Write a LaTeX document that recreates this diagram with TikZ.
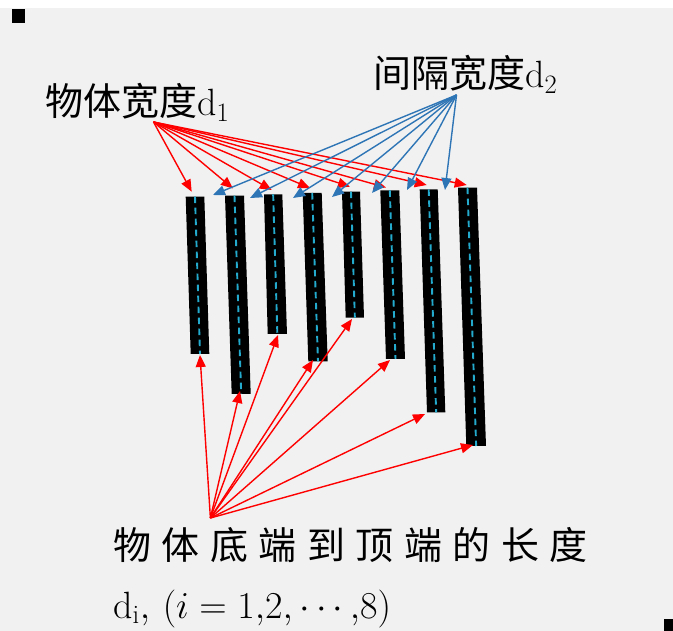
\RequirePackage{fix-cm}
\documentclass[tikz,border=0pt]{standalone}
\usepackage{fontspec}
\newfontfamily\cjk{Noto Sans CJK SC}
\usetikzlibrary{arrows.meta}
\definecolor{redA}{RGB}{255,0,0}
\definecolor{blueA}{RGB}{46,117,182}
\definecolor{cyanA}{RGB}{35,170,205}
\definecolor{bgA}{RGB}{241,241,241}
\tikzset{
  arr/.style={line width=1.4pt, -{Triangle[length=12pt,width=10pt]}},
  redarr/.style={arr, draw=redA},
  bluearr/.style={arr, draw=blueA},
  barbox/.style={fill=black},
  midline/.style={draw=cyanA, line width=1.9pt, dash pattern=on 6.5pt off 4.5pt},
  lab/.style={inner sep=0pt, anchor=base west, font=\fontsize{38}{42}\selectfont},
  corner/.style={fill=black}
}
\newcommand{\gapsp}{\hspace{10.5pt}}
\begin{document}
\begin{tikzpicture}[x=1pt,y=-1pt]
\useasboundingbox (0,0) rectangle (673,631);
\fill[white] (0,0) rectangle (673,631);
\fill[bgA] (0,8) rectangle (673,631);
\fill[corner] (12,9) rectangle (25,23);
\fill[corner] (664,619) rectangle (673,631);

% bars: TLx, TRx, top y, BLx, BRx, bottom y
\foreach \n/\tl/\tr/\ty/\bl/\br/\by in {
  1/185.7/204.3/196.7/190.7/209.3/354,
  2/225/244/195.7/231.7/250.7/394,
  3/264/282.3/194.3/267.7/287/334,
  4/302.7/321.7/193/308.3/327.7/361.3,
  5/342/360/191.7/345.7/364/317.7,
  6/380.3/399.3/190.3/386/405/359,
  7/419.7/437.7/189.3/427/445.3/412.3,
  8/458/477/187.7/466.3/486/446}{
  \fill[barbox] (\tl,\ty) -- (\tr,\ty) -- (\br,\by) -- (\bl,\by) -- cycle;
  \coordinate (bt\n) at ({(\tl+\tr)/2},\ty);
  \coordinate (bb\n) at ({(\bl+\br)/2},\by);
  \draw[midline] (bt\n) -- (bb\n);
}

% labels
\node[lab] (lw) at (45,116) {\cjk 物体宽度$\mathrm{d}_1$};
\node[lab] (lg) at (373,88) {\cjk 间隔宽度$\mathrm{d}_2$};
\node[lab] (ll) at (113,559) {\cjk 物\gapsp 体\gapsp 底\gapsp 端\gapsp 到\gapsp 顶\gapsp 端\gapsp 的\gapsp 长\gapsp 度};
\node[inner sep=0pt, anchor=base west, font=\fontsize{38}{42}\selectfont] (lf) at (113,618) {$\mathrm{d_i},\,(i=1{,}2{,}\cdots{,}8)$};

% source points
\coordinate (sw) at (153.5,122);
\coordinate (sg) at (456.5,95);
\coordinate (sl) at (210.4,518);

% targets
\coordinate (t1) at (191.7,191.7);
\coordinate (t2) at (233,188.5);
\coordinate (t3) at (271.7,190);
\coordinate (t4) at (310,188);
\coordinate (t5) at (350,186.7);
\coordinate (t6) at (386,187.5);
\coordinate (t7) at (426.7,185);
\coordinate (t8) at (466.7,185);

\coordinate (g1) at (213,195);
\coordinate (g2) at (250,198);
\coordinate (g3) at (293,198);
\coordinate (g4) at (332,197);
\coordinate (g5) at (372,193);
\coordinate (g6) at (407,190);
\coordinate (g7) at (445,190);

\coordinate (e1) at (200,355);
\coordinate (e2) at (240,391);
\coordinate (e3) at (278,335);
\coordinate (e4) at (313,360);
\coordinate (e5) at (352,319);
\coordinate (e6) at (390,360);
\coordinate (e7) at (425,414);
\coordinate (e8) at (473,445);

\foreach \i in {1,...,8}{\draw[redarr] (sw) -- (t\i);}
\foreach \i in {1,...,7}{\draw[bluearr] (sg) -- (g\i);}
\foreach \i in {1,...,8}{\draw[redarr] (sl) -- (e\i);}
\end{tikzpicture}
\end{document}
